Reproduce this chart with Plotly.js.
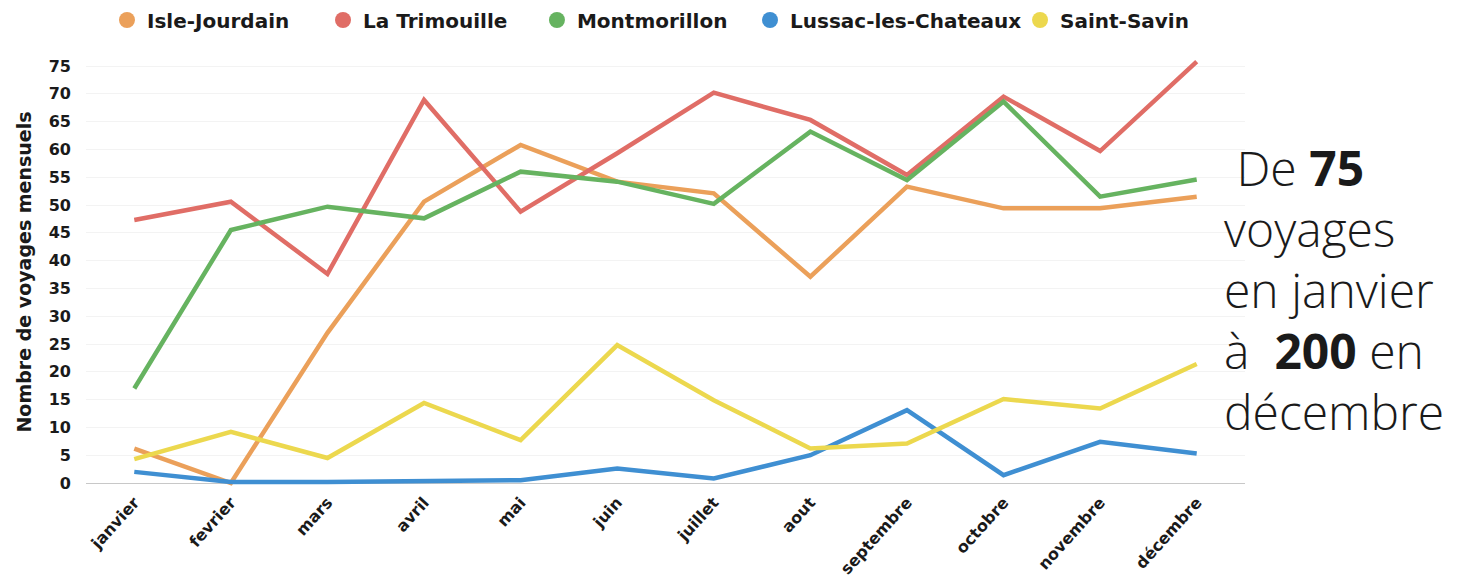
<!DOCTYPE html>
<html>
<head>
<meta charset="utf-8">
<script src="https://cdn.plot.ly/plotly-3.0.1.min.js"></script>
<style>html,body{margin:0;padding:0;background:#fff;}#chart{width:1462px;height:585px;}</style>
</head>
<body>
<div id="chart"></div>
<script>
const months = ["janvier","fevrier","mars","avril","mai","juin","juillet","aout","septembre","octobre","novembre","décembre"];
const seriesNames = ["Isle-Jourdain","La Trimouille","Montmorillon","Lussac-les-Chateaux","Saint-Savin"];
const isleJourdain = [6.2, 0, 27, 50.6, 60.8, 54.2, 52.1, 37.1, 53.3, 49.4, 49.4, 51.5];
const laTrimouille = [47.3, 50.6, 37.6, 68.9, 48.8, 59.3, 70.2, 65.3, 55.4, 69.5, 59.7, 75.8];
const montmorillon = [17.0, 45.5, 49.7, 47.6, 56.0, 54.2, 50.2, 63.2, 54.5, 68.6, 51.5, 54.6];
const lussac = [2.0, 0.2, 0.2, 0.3, 0.5, 2.6, 0.8, 5.0, 13.1, 1.4, 7.4, 5.3];
const saintSavin = [4.3, 9.2, 4.5, 14.4, 7.7, 24.8, 14.9, 6.2, 7.1, 15.1, 13.4, 21.4];
const colors = ["#eba05a", "#e06d66", "#66b360", "#3f8fd2", "#ecd84e"];
const yTicks = [0,5,10,15,20,25,30,35,40,45,50,55,60,65,70,75];
const sideLines = ["\u00a0De <b>75</b>", "voyages", "en janvier", "à  <b>200</b> en", "décembre"];

const allSeries = [isleJourdain, laTrimouille, montmorillon, lussac, saintSavin];
const legendIds = ["legend", "legend2", "legend3", "legend4", "legend5"];
const legendX = [0.0181, 0.2045, 0.3891, 0.5729, 0.8059];

const traces = [];
allSeries.forEach((vals, i) => {
  traces.push({
    x: months, y: vals, type: "scatter", mode: "lines",
    name: seriesNames[i], showlegend: false,
    line: {color: colors[i], width: 4.5}, hoverinfo: "skip"
  });
});
seriesNames.forEach((n, i) => {
  traces.push({
    x: [null], y: [null], type: "scatter", mode: "markers", name: n,
    legend: legendIds[i],
    marker: {color: colors[i], size: 18, symbol: "circle"}, showlegend: true
  });
});

const heavy = "DejaVu Sans, sans-serif";
const legendFont = {family: heavy, size: 20, color: "#1a1a1a", weight: 700};

const annotations = sideLines.map((t, i) => ({
  xref: "paper", yref: "paper", x: 0.980, y: 0.74 - i * 0.1405,
  xanchor: "left", yanchor: "middle", showarrow: false, align: "left",
  text: t, font: {family: "Open Sans, sans-serif", size: 48, color: "#1a1a1a", weight: 300}
}));

const layout = {
  width: 1462, height: 585,
  paper_bgcolor: "#ffffff", plot_bgcolor: "#ffffff",
  margin: {l: 86, r: 217, t: 55, b: 96, pad: 0},
  showlegend: true,
  xaxis: {
    type: "category", categoryorder: "array", categoryarray: months,
    range: [-0.5, 11.5], tickangle: -48, showgrid: false, zeroline: false,
    showline: false, ticks: "",
    tickfont: {family: heavy, size: 16, color: "#1a1a1a", weight: 700}
  },
  yaxis: {
    range: [-1.08, 76.98], tickvals: yTicks, ticktext: yTicks.map(String),
    showgrid: true, gridcolor: "#f3f3f3", gridwidth: 1,
    zeroline: true, zerolinecolor: "#c8c8c8", zerolinewidth: 1,
    showline: false, ticks: "", ticklabelstandoff: 14,
    tickfont: {family: heavy, size: 16, color: "#1a1a1a", weight: 700},
    title: {text: "Nombre de voyages mensuels", font: {family: heavy, size: 19, color: "#1a1a1a", weight: 700}, standoff: 12}
  },
  annotations: annotations
};
legendIds.forEach((id, i) => {
  layout[id] = {
    orientation: "h", x: legendX[i], y: 0.9658, xref: "paper", yref: "container",
    xanchor: "left", yanchor: "middle", font: legendFont, bgcolor: "rgba(0,0,0,0)"
  };
});

Plotly.newPlot("chart", traces, layout, {displayModeBar: false, staticPlot: true});
</script>
</body>
</html>
